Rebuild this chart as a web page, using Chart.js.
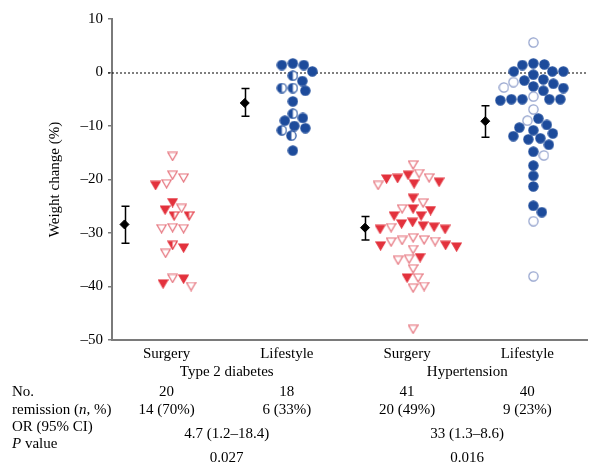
<!DOCTYPE html>
<html>
<head>
<meta charset="utf-8">
<script src="https://cdn.jsdelivr.net/npm/chart.js@4"></script>
<style>
  html, body { margin: 0; padding: 0; background: #fff; }
  #wrap { width: 593px; height: 464px; }
</style>
</head>
<body>
<div id="wrap"><canvas id="chart"></canvas></div>
<script>
// ---- data ----
const categories = ['Surgery', 'Lifestyle', 'Surgery', 'Lifestyle'];
const groupNames = ['Type 2 diabetes', 'Hypertension'];
const yTicks = [-50, -40, -30, -20, -10, 0, 10];

// f = filled, o = open, h = half filled
const t2dSurgeryVals = [-15.7, -19.2, -20.8, -21.1, -19.7, -24.3, -25.4, -25.7, -26.8, -26.8, -29.0, -29.2, -29.2, -32.8, -33.8, -32.3, -38.5, -40.0, -39.5, -38.6];
const t2dSurgeryMark = ['o','o','o','f','o','f','o','f','h','h','o','o','o','f','o','h','o','o','f','f'];

const t2dLifestyleVals = [1.4, 1.7, 1.4, 0.2, -0.6, -1.6, -3.4, -2.9, -2.9, -5.4, -7.7, -9.0, -8.5, -10.0, -10.8, -10.4, -11.8, -14.6];
const t2dLifestyleMark = ['f','f','f','f','h','f','f','h','h','f','h','f','f','f','h','f','h','f'];

const htSurgeryVals = [-17.3, -19.2, -19.8, -18.9, -20.5, -21.1, -20.8, -19.9, -19.7, -23.5, -24.4, -25.5, -25.8, -25.5, -26.8, -26.8, -28.3, -29.0, -29.3, -29.3, -28.9, -28.7, -28.0, -30.9, -31.4, -31.7, -32.3, -32.4, -32.6, -31.6, -31.3, -33.1, -34.9, -34.6, -35.1, -36.7, -38.4, -38.4, -40.0, -40.3, -48.0];
const htSurgeryMark = ['o','f','f','o','f','o','f','f','o','f','o','f','f','o','f','f','f','o','f','f','f','f','f','o','o','o','f','f','f','o','o','o','o','f','o','o','o','f','o','o','o'];

const htLifestyleVals = [5.6, 1.7, 1.4, 1.5, -0.4, 0.2, 0.2, 0.2, -1.5, -2.1, -1.8, -1.3, -2.8, -3.4, -2.9, -2.6, -4.5, -5.0, -5.0, -5.2, -5.0, -5.0, -6.9, -8.6, -9.0, -9.8, -10.3, -10.8, -11.4, -11.9, -12.5, -12.3, -13.5, -14.8, -15.5, -17.4, -19.3, -21.3, -24.9, -26.1, -27.8, -38.1];
const htLifestyleMark = ['o','f','f','f','f','f','f','f','f','f','o','f','o','f','f','f','o','f','f','f','f','f','o','f','o','f','f','f','f','f','f','f','f','f','o','f','f','f','f','f','o','o'];

const means = [-28.4, -5.7, -29.0, -9.1];
const ciHigh = [-25.0, -3.0, -26.9, -6.2];
const ciLow = [-31.9, -8.2, -31.3, -12.1];

const counts = ['20', '18', '41', '40'];
const remission = ['14 (70%)', '6 (33%)', '20 (49%)', '9 (23%)'];
const oddsRatios = ['4.7 (1.2\u201318.4)', '33 (1.3\u20138.6)'];
const pValues = ['0.027', '0.016'];

// ---- markers ----
const RED = '#e3323d', PINK = '#e5707a', BLUE = '#1d4b9b', PALE = '#8e9ecb';

function makeMarker(kind, mode) {
  const c = document.createElement('canvas');
  c.width = 11; c.height = kind === 'tri' ? 10 : 11;
  const g = c.getContext('2d');
  const path = () => {
    g.beginPath();
    if (kind === 'tri') { g.moveTo(0.9, 1); g.lineTo(10.1, 1); g.lineTo(5.5, 9); g.closePath(); }
    else g.arc(5.5, 5.5, 4.6, 0, Math.PI * 2);
  };
  const full = kind === 'tri' ? RED : BLUE;
  const edge = kind === 'tri' ? (mode === 'o' ? PINK : RED) : (mode === 'o' ? PALE : BLUE);
  path();
  g.fillStyle = mode === 'f' ? full : '#fff';
  g.fill();
  if (mode === 'h') {
    g.save(); g.beginPath(); g.rect(0, 0, 5.5, 11); g.clip();
    path(); g.fillStyle = full; g.fill(); g.restore();
  }
  path();
  g.lineWidth = 1.2; g.strokeStyle = edge; g.stroke();
  return c;
}
const markers = {
  tri: { f: makeMarker('tri', 'f'), o: makeMarker('tri', 'o'), h: makeMarker('tri', 'h') },
  dot: { f: makeMarker('dot', 'f'), o: makeMarker('dot', 'o'), h: makeMarker('dot', 'h') }
};

const groupsData = [
  { vals: t2dSurgeryVals, mark: t2dSurgeryMark, kind: 'tri' },
  { vals: t2dLifestyleVals, mark: t2dLifestyleMark, kind: 'dot' },
  { vals: htSurgeryVals, mark: htSurgeryMark, kind: 'tri' },
  { vals: htLifestyleVals, mark: htLifestyleMark, kind: 'dot' }
];

const barShift = -0.4; // mean/CI drawn to the left of each swarm

const datasets = groupsData.map((grp, gi) => ({
  data: grp.vals.map(v => ({ x: gi + 1, y: v })),
  pointStyle: ctx => markers[grp.kind][grp.mark[ctx.dataIndex]],
  pointRadius: 5,
  showLine: false
}));
datasets.push({
  data: means.map((m, i) => ({ x: i + 1 + barShift, y: m })),
  pointStyle: 'rectRot',
  pointRadius: 4.5,
  backgroundColor: '#000',
  borderColor: '#000',
  showLine: false
});

const serif = '"Liberation Serif", "DejaVu Serif", serif';

const extras = {
  id: 'extras',
  beforeDatasetsDraw(chart) {
    const { ctx, chartArea, scales: { x, y } } = chart;
    // dotted zero reference line
    const y0 = y.getPixelForValue(0);
    ctx.save();
    ctx.strokeStyle = '#000'; ctx.lineWidth = 1; ctx.setLineDash([2, 2]);
    ctx.beginPath(); ctx.moveTo(chartArea.left - 4, y0 + 0.5); ctx.lineTo(chartArea.right, y0 + 0.5); ctx.stroke();
    ctx.setLineDash([]);
    // confidence interval bars
    ctx.lineWidth = 1.5;
    means.forEach((m, i) => {
      const px = Math.round(x.getPixelForValue(i + 1 + barShift)) + 0.5;
      const top = y.getPixelForValue(ciHigh[i]), bot = y.getPixelForValue(ciLow[i]);
      ctx.beginPath();
      ctx.moveTo(px, top); ctx.lineTo(px, bot);
      ctx.moveTo(px - 4, top); ctx.lineTo(px + 4, top);
      ctx.moveTo(px - 4, bot); ctx.lineTo(px + 4, bot);
      ctx.stroke();
    });
    ctx.restore();
  },
  afterDraw(chart) {
    const { ctx, scales: { x } } = chart;
    const colX = categories.map((c, i) => x.getPixelForValue(i + 1) - 6);
    const midX = [(colX[0] + colX[1]) / 2, (colX[2] + colX[3]) / 2];
    ctx.save();
    ctx.fillStyle = '#000';
    ctx.textBaseline = 'middle';
    ctx.font = '15px ' + serif;
    ctx.textAlign = 'center';
    categories.forEach((c, i) => ctx.fillText(c, colX[i], 354));
    groupNames.forEach((g, i) => ctx.fillText(g, midX[i], 372));
    counts.forEach((c, i) => ctx.fillText(c, colX[i], 392));
    remission.forEach((c, i) => ctx.fillText(c, colX[i], 410));
    oddsRatios.forEach((c, i) => ctx.fillText(c, midX[i], 434));
    pValues.forEach((c, i) => ctx.fillText(c, midX[i], 458));

    // row labels with italic pieces
    ctx.textAlign = 'left';
    const rowLabel = (parts, yy) => {
      let xx = 12;
      parts.forEach(([txt, it]) => {
        ctx.font = (it ? 'italic ' : '') + '15px ' + serif;
        ctx.fillText(txt, xx, yy);
        xx += ctx.measureText(txt).width;
      });
    };
    rowLabel([['No.', false]], 392);
    rowLabel([['remission (', false], ['n', true], [', %)', false]], 410);
    rowLabel([['OR (95% CI)', false]], 427);
    rowLabel([['P', true], [' value', false]], 444);
    ctx.restore();
  }
};

const chart = new Chart(document.getElementById('chart'), {
  type: 'scatter',
  data: { datasets },
  options: {
    responsive: true,
    maintainAspectRatio: false,
    animation: false,
    layout: { padding: { top: 19, right: 3, left: 0, bottom: 0 } },
    plugins: { legend: { display: false }, tooltip: { enabled: false } },
    scales: {
      x: {
        type: 'linear',
        min: 0.496,
        max: 4.446,
        ticks: { display: false },
        grid: { display: true, drawOnChartArea: false, drawTicks: false },
        border: { display: true, color: '#7a7a7a', width: 2 },
        afterFit: s => { s.height = 124; }
      },
      y: {
        min: -50,
        max: 10,
        afterBuildTicks: s => { s.ticks = yTicks.map(v => ({ value: v })); },
        ticks: {
          color: '#000',
          padding: 5,
          font: { family: serif, size: 15 },
          callback: v => String(v).replace('-', '\u2013')
        },
        grid: { drawOnChartArea: false, drawTicks: true, tickLength: 4, color: '#7a7a7a', lineWidth: 1.5 },
        border: { display: true, color: '#7a7a7a', width: 2 },
        title: {
          display: true,
          text: 'Weight change (%)',
          color: '#000',
          font: { family: serif, size: 15 },
          padding: { top: 46, bottom: 0 }
        },
        afterFit: s => { s.width = 112; }
      }
    }
  },
  plugins: [extras]
});

// lay each group out as a simple beeswarm, in pixel space, then convert back
function swarm(vals, center, xs, ys) {
  const cx = xs.getPixelForValue(center);
  const order = vals.map((v, i) => i).sort((a, b) => vals[b] - vals[a]);
  const placed = [];
  const out = new Array(vals.length);
  order.forEach(i => {
    const py = ys.getPixelForValue(vals[i]);
    let off = 0;
    for (let k = 0; k < 400; k++) {
      const cand = (k % 2 ? 1 : -1) * Math.ceil(k / 2) * 0.5;
      const ok = placed.every(p => {
        const dx = (cx + cand - p.x) / 11, dy = (py - p.y) / 10;
        return dx * dx + dy * dy >= 1;
      });
      if (ok) { off = cand; break; }
    }
    placed.push({ x: cx + off, y: py });
    out[i] = xs.getValueForPixel(cx + off);
  });
  return out;
}

groupsData.forEach((grp, gi) => {
  const xsOut = swarm(grp.vals, gi + 1, chart.scales.x, chart.scales.y);
  chart.data.datasets[gi].data = grp.vals.map((v, i) => ({ x: xsOut[i], y: v }));
});
chart.update('none');
</script>
</body>
</html>
